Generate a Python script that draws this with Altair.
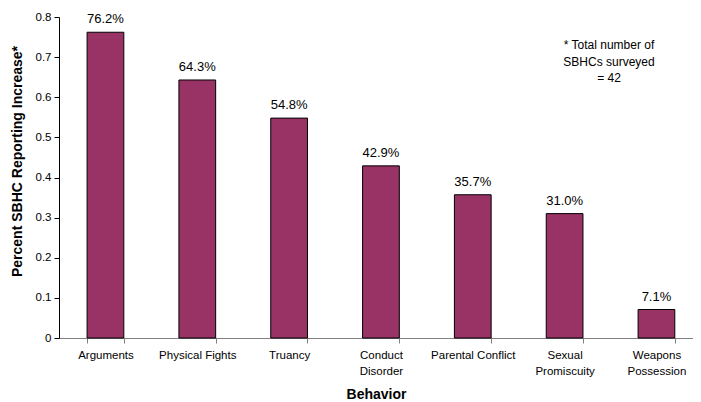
import altair as alt
import pandas as pd

categories = ["Arguments", "Physical Fights", "Truancy", "Conduct\nDisorder",
              "Parental Conflict", "Sexual\nPromiscuity", "Weapons\nPossession"]
values = [0.762, 0.643, 0.548, 0.429, 0.357, 0.310, 0.071]
labels = ["76.2%", "64.3%", "54.8%", "42.9%", "35.7%", "31.0%", "7.1%"]
note_lines = ["* Total number of", "SBHCs surveyed", "= 42"]

df = pd.DataFrame({"Behavior": categories, "value": values, "label": labels})

FONT = "Liberation Sans"

x_enc = alt.X("Behavior:N", sort=categories, title="Behavior",
              scale=alt.Scale(paddingInner=0.6, paddingOuter=0.252, align=0.607),
              axis=alt.Axis(labelAngle=0,
                            labelExpr="datum.value ? split(datum.value, '\\n') : ''",
                            tickBand="extent", labelFontSize=11.5, labelColor="black",
                            labelFont=FONT, labelPadding=6, labelLineHeight=16,
                            titleFont=FONT, titleFontSize=14, titleFontWeight="bold",
                            titleColor="black", titlePadding=11,
                            domainColor="#808080", tickColor="#808080", tickSize=5))

y_enc = alt.Y("value:Q", title="Percent SBHC Reporting Increase*",
              scale=alt.Scale(domain=[0, 0.8], nice=False),
              axis=alt.Axis(values=[0, 0.1, 0.2, 0.3, 0.4, 0.5, 0.6, 0.7, 0.8],
                            format="~g", grid=False, labelFontSize=11.5, labelFont=FONT,
                            labelColor="black", domainColor="black", tickColor="black",
                            tickSize=5, labelPadding=3,
                            titleFont=FONT, titleFontSize=14, titleFontWeight="bold",
                            titleColor="black", titlePadding=11, titleY=144))

bars = alt.Chart(df).mark_bar(color="#993366", stroke="black", strokeWidth=1).encode(
    x=x_enc, y=y_enc)

text = alt.Chart(df).mark_text(baseline="alphabetic", dy=-9, fontSize=13, font=FONT,
                               color="black").encode(
    x=alt.X("Behavior:N", sort=categories), y="value:Q", text="label:N")

note = alt.Chart(pd.DataFrame({"a": [0]})).mark_text(
    text=note_lines, fontSize=12, font=FONT, color="black", align="center",
    baseline="middle", lineHeight=16.5).encode(
    x=alt.value(550), y=alt.value(28))

chart = alt.layer(bars, text, note).properties(
    width=634, height=321,
    autosize=alt.AutoSizeParams(type="none"),
    padding={"left": 51, "top": 9, "right": 0, "bottom": 64},
).configure_view(stroke=None)

chart.save("out.html", embed_options={"renderer": "svg", "actions": False})
